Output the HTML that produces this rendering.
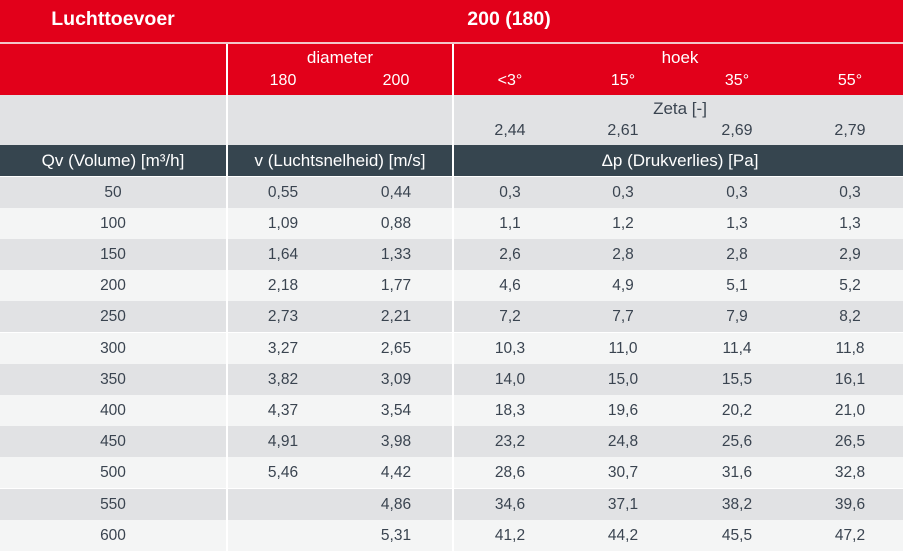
<!DOCTYPE html>
<html><head><meta charset="utf-8"><style>
*{margin:0;padding:0;box-sizing:border-box}
body{width:903px;height:558px;background:#fff;font-family:"Liberation Sans",sans-serif;position:relative;overflow:hidden;color:#3a4450}
.abs{position:absolute}
.red{background:#e2001a;color:#fff}
.t{position:absolute;transform:translateX(-50%);white-space:nowrap;font-size:16px;line-height:18px}
.h{font-size:17px}
.row{position:absolute;left:0;width:903px;height:31.2px}
.row span{position:absolute;top:7px;transform:translateX(-50%);font-size:15.5px;line-height:18px;color:#3a4450}
.g{background:#e1e2e4}.l{background:#f4f5f5}
.vl{position:absolute;width:2px;background:#fff}
</style></head><body>
<div class="abs red" style="left:0;top:0;width:903px;height:42px"></div>
<div class="t" style="left:113px;top:10px;font-size:19.5px;font-weight:bold;color:#fff">Luchttoevoer</div>
<div class="t" style="left:509px;top:10px;font-size:19.5px;font-weight:bold;color:#fff">200 (180)</div>
<div class="abs" style="left:0;top:42px;width:903px;height:2px;background:#f3c5c9"></div>
<div class="abs red" style="left:0;top:44px;width:903px;height:51px"></div>
<div class="t h" style="left:340px;top:49px;color:#fff">diameter</div>
<div class="t" style="left:283px;top:72px;color:#fff">180</div>
<div class="t" style="left:396px;top:72px;color:#fff">200</div>
<div class="t h" style="left:680px;top:49px;color:#fff">hoek</div>
<div class="t" style="left:510px;top:72px;color:#fff">&lt;3°</div>
<div class="t" style="left:623px;top:72px;color:#fff">15°</div>
<div class="t" style="left:737px;top:72px;color:#fff">35°</div>
<div class="t" style="left:850px;top:72px;color:#fff">55°</div>
<div class="abs g" style="left:0;top:95px;width:903px;height:50px"></div>
<div class="t h" style="left:680px;top:100px">Zeta [-]</div>
<div class="t" style="left:510px;top:122px">2,44</div>
<div class="t" style="left:623px;top:122px">2,61</div>
<div class="t" style="left:737px;top:122px">2,69</div>
<div class="t" style="left:850px;top:122px">2,79</div>
<div class="abs" style="left:0;top:145px;width:903px;height:31px;background:#36454f"></div>
<div class="t h" style="left:113px;top:152px;color:#fff">Qv (Volume) [m³/h]</div>
<div class="t h" style="left:340px;top:152px;color:#fff">v (Luchtsnelheid) [m/s]</div>
<div class="t h" style="left:680px;top:152px;color:#fff">Δp (Drukverlies) [Pa]</div>

<div class="row g" style="top:176.5px"><span style="left:113px">50</span><span style="left:283px">0,55</span><span style="left:396px">0,44</span><span style="left:510px">0,3</span><span style="left:623px">0,3</span><span style="left:737px">0,3</span><span style="left:850px">0,3</span></div>
<div class="row l" style="top:207.7px"><span style="left:113px">100</span><span style="left:283px">1,09</span><span style="left:396px">0,88</span><span style="left:510px">1,1</span><span style="left:623px">1,2</span><span style="left:737px">1,3</span><span style="left:850px">1,3</span></div>
<div class="row g" style="top:238.9px"><span style="left:113px">150</span><span style="left:283px">1,64</span><span style="left:396px">1,33</span><span style="left:510px">2,6</span><span style="left:623px">2,8</span><span style="left:737px">2,8</span><span style="left:850px">2,9</span></div>
<div class="row l" style="top:270.1px"><span style="left:113px">200</span><span style="left:283px">2,18</span><span style="left:396px">1,77</span><span style="left:510px">4,6</span><span style="left:623px">4,9</span><span style="left:737px">5,1</span><span style="left:850px">5,2</span></div>
<div class="row g" style="top:301.3px"><span style="left:113px">250</span><span style="left:283px">2,73</span><span style="left:396px">2,21</span><span style="left:510px">7,2</span><span style="left:623px">7,7</span><span style="left:737px">7,9</span><span style="left:850px">8,2</span></div>
<div class="row l" style="top:332.5px"><span style="left:113px">300</span><span style="left:283px">3,27</span><span style="left:396px">2,65</span><span style="left:510px">10,3</span><span style="left:623px">11,0</span><span style="left:737px">11,4</span><span style="left:850px">11,8</span></div>
<div class="row g" style="top:363.7px"><span style="left:113px">350</span><span style="left:283px">3,82</span><span style="left:396px">3,09</span><span style="left:510px">14,0</span><span style="left:623px">15,0</span><span style="left:737px">15,5</span><span style="left:850px">16,1</span></div>
<div class="row l" style="top:394.9px"><span style="left:113px">400</span><span style="left:283px">4,37</span><span style="left:396px">3,54</span><span style="left:510px">18,3</span><span style="left:623px">19,6</span><span style="left:737px">20,2</span><span style="left:850px">21,0</span></div>
<div class="row g" style="top:426.1px"><span style="left:113px">450</span><span style="left:283px">4,91</span><span style="left:396px">3,98</span><span style="left:510px">23,2</span><span style="left:623px">24,8</span><span style="left:737px">25,6</span><span style="left:850px">26,5</span></div>
<div class="row l" style="top:457.3px"><span style="left:113px">500</span><span style="left:283px">5,46</span><span style="left:396px">4,42</span><span style="left:510px">28,6</span><span style="left:623px">30,7</span><span style="left:737px">31,6</span><span style="left:850px">32,8</span></div>
<div class="row g" style="top:488.5px"><span style="left:113px">550</span><span style="left:396px">4,86</span><span style="left:510px">34,6</span><span style="left:623px">37,1</span><span style="left:737px">38,2</span><span style="left:850px">39,6</span></div>
<div class="row l" style="top:519.7px"><span style="left:113px">600</span><span style="left:396px">5,31</span><span style="left:510px">41,2</span><span style="left:623px">44,2</span><span style="left:737px">45,5</span><span style="left:850px">47,2</span></div>

<div class="vl" style="left:226px;top:44px;height:507px"></div>
<div class="vl" style="left:452px;top:44px;height:507px"></div>
</body></html>
